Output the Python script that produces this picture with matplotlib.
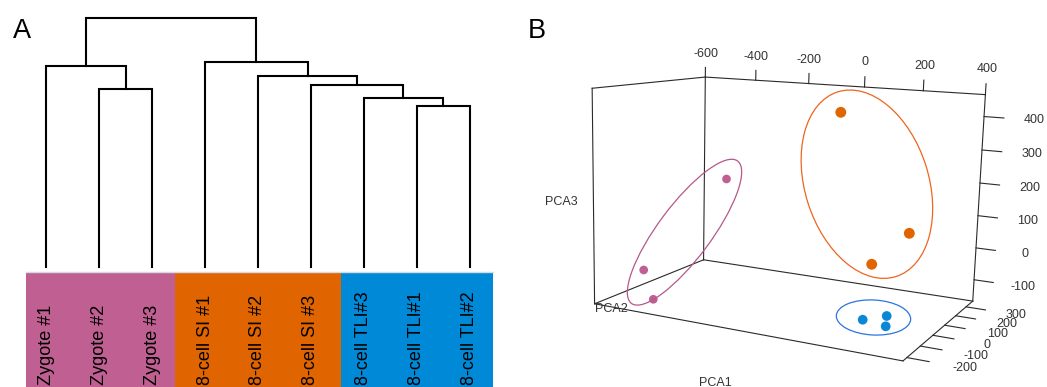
import numpy as np
import matplotlib
matplotlib.use('Agg')
import matplotlib.pyplot as plt
from matplotlib.patches import Ellipse, Rectangle

plt.rcParams['font.family'] = ['Liberation Sans', 'DejaVu Sans']
W_PX, H_PX = 1047, 387

# panel A: hierarchical clustering
leaves = ['Zygote #1', 'Zygote #2', 'Zygote #3',
          '8-cell SI #1', '8-cell SI #2', '8-cell SI #3',
          '8-cell TLI#3', '8-cell TLI#1', '8-cell TLI#2']
merge_left = [7, 6, 1, 5, 4, 0, 3, 14]
merge_right = [8, 9, 2, 10, 12, 11, 13, 15]
merge_height = [0.648, 0.678, 0.714, 0.731, 0.768, 0.808, 0.823, 1.000]
group_colors = ['#bf5f92', '#e06400', '#0089d6']
band_edges = [-0.38, 2.44, 5.57, 8.45]

# panel B: PCA
pca1 = [-455, -470, -430, 150, 330, 260, 230, 270, 280]
pca2 = [280.1, -159.4, -166.4, -126.5, -40.5, -131.0, -107.5, -29.8, -58.9]
pca3 = [144.0, -63.6, -145.0, 438.0, 118.1, 43.9, -119.8, -124.7, -144.4]
point_group = [0, 0, 0, 1, 1, 1, 2, 2, 2]
pca1_ticks = [-600, -400, -200, 0, 200, 400]
pca2_ticks = [-200, -100, 0, 100, 200, 300]
pca3_ticks = [-100, 0, 100, 200, 300, 400]
pca1_lim = (-600, 400)
pca2_lim = (-227.93, 368.13)
pca3_lim = (-167.73, 464.85)

fig = plt.figure(figsize=(W_PX / 100, H_PX / 100), dpi=100)

# dendrogram
axd = fig.add_axes([20 / W_PX, (H_PX - 266.7) / H_PX, 476 / W_PX, 248.4 / H_PX])
node_x = list(range(len(leaves)))
node_h = [0.0] * len(leaves)
for l, r, h in zip(merge_left, merge_right, merge_height):
    axd.plot([node_x[l], node_x[l], node_x[r], node_x[r]],
             [node_h[l], h, h, node_h[r]], color='black', lw=1.5,
             clip_on=False, solid_joinstyle='miter')
    node_x.append((node_x[l] + node_x[r]) / 2)
    node_h.append(h)
axd.set_xlim(-0.5, len(leaves) - 0.5)
axd.set_ylim(0, 1)
axd.axis('off')

# colour band with sample names
axb = fig.add_axes([20 / W_PX, 0, 476 / W_PX, (H_PX - 271.7) / H_PX])
for g, col in enumerate(group_colors):
    axb.add_patch(Rectangle((band_edges[g], 0), band_edges[g + 1] - band_edges[g], 1,
                            facecolor=col, edgecolor='none'))
axb.plot([band_edges[0], band_edges[-1]], [1, 1], color='#d4dbe3', lw=1, clip_on=False)
for i, lab in enumerate(leaves):
    axb.text(i, 2 / 115.3, lab, rotation=90, ha='center', va='bottom', fontsize=13)
axb.set_xlim(-0.5, len(leaves) - 0.5)
axb.set_ylim(0, 1)
axb.axis('off')

fig.text(12.5 / W_PX, 1 - 38.3 / H_PX, 'A', fontsize=19.5, ha='left', va='baseline')
fig.text(527.5 / W_PX, 1 - 38.3 / H_PX, 'B', fontsize=19.5, ha='left', va='baseline')

# 3D PCA box
ax3 = fig.add_axes([569.30 / W_PX, -33.01 / H_PX, 430.29 / W_PX, 430.29 / H_PX],
                   projection='3d')
ax3.view_init(10.8264, -63.8452, -1.4741)
ax3.set_proj_type('persp', focal_length=0.4369)
ax3.set_box_aspect((1, 0.64077, 0.65757))
ax3.set_xlim(*pca1_lim)
ax3.set_ylim(*pca2_lim)
ax3.set_zlim(*pca3_lim)
ax3.set_axis_off()
ax3.patch.set_alpha(0)

x0, x1 = pca1_lim
y0, y1 = pca2_lim
z0, z1 = pca3_lim
edges = [((x0, x1), (y0, y0), (z0, z0)), ((x1, x1), (y0, y1), (z0, z0)),
         ((x1, x0), (y1, y1), (z0, z0)), ((x0, x0), (y1, y0), (z0, z0)),
         ((x0, x0), (y0, y0), (z0, z1)), ((x0, x0), (y1, y1), (z0, z1)),
         ((x1, x1), (y1, y1), (z0, z1)), ((x0, x0), (y0, y1), (z1, z1)),
         ((x0, x1), (y1, y1), (z1, z1))]
for ex, ey, ez in edges:
    ax3.plot(ex, ey, ez, color='#2a2a2a', lw=0.8, clip_on=False)

tick_kw = dict(color='#2a2a2a', lw=0.8, clip_on=False)
for v in pca1_ticks:
    ax3.plot([v, v], [y1, y1], [z1, z1 + 32], **tick_kw)
for v in pca3_ticks:
    ax3.plot([x1, x1 + 62], [y1, y1], [v, v], **tick_kw)
for v in pca2_ticks:
    ax3.plot([x1, x1 + 62], [v, v], [z0, z0], **tick_kw)

point_colors = ['#bf5f92', '#e06400', '#0a88d6']
point_sizes = [39, 61, 49]
for g in range(3):
    idx = [i for i, gg in enumerate(point_group) if gg == g]
    ax3.scatter([pca1[i] for i in idx], [pca2[i] for i in idx], [pca3[i] for i in idx],
                s=point_sizes[g], c=point_colors[g], depthshade=False,
                edgecolors='none', clip_on=False)

fig.canvas.draw()
M = ax3.get_proj()


def to_px(x, y, z):
    v = M @ np.array([x, y, z, 1.0])
    return ax3.transData.transform([v[0] / v[3], v[1] / v[3]])


# overlay in pixel units for labels and hand-drawn cluster ellipses
ov = fig.add_axes([0, 0, 1, 1])
ov.set_xlim(0, W_PX)
ov.set_ylim(0, H_PX)
ov.axis('off')

lab_kw = dict(fontsize=9, color='#333333', ha='center', va='center')
for v in pca1_ticks:
    ov.text(*to_px(v, y1, z1 + 76), str(v), **lab_kw)
for v in pca3_ticks:
    ov.text(*to_px(x1 + 155, y1, v), str(v), **lab_kw)
for v in pca2_ticks:
    ov.text(*to_px(x1 + 158, v, z0), str(v), **lab_kw)

ov.text(561.7, H_PX - 201.7, 'PCA3', **lab_kw)
ov.text(611.7, H_PX - 309.3, 'PCA2', **lab_kw)
ov.text(715, H_PX - 382.7, 'PCA1', **lab_kw)

ell_colors = ['#b5588c', '#f0641e', '#2a74e0']
ell_size = [(177.6, 53.0, 53.3), (193.6, 123.7, 107.5), (74.4, 35.0, -3.0)]
ell_shift = [(-0.6, 6.95), (-8.15, 4.1), (-1.2, 3.65)]
for g in range(3):
    xy = np.array([to_px(pca1[i], pca2[i], pca3[i])
                   for i, gg in enumerate(point_group) if gg == g])
    c = (xy.min(0) + xy.max(0)) / 2 + np.array(ell_shift[g])
    w, h, a = ell_size[g]
    ov.add_patch(Ellipse(c, w, h, angle=a, fill=False, edgecolor=ell_colors[g], lw=0.9))

fig.savefig('out.png', dpi=100)
